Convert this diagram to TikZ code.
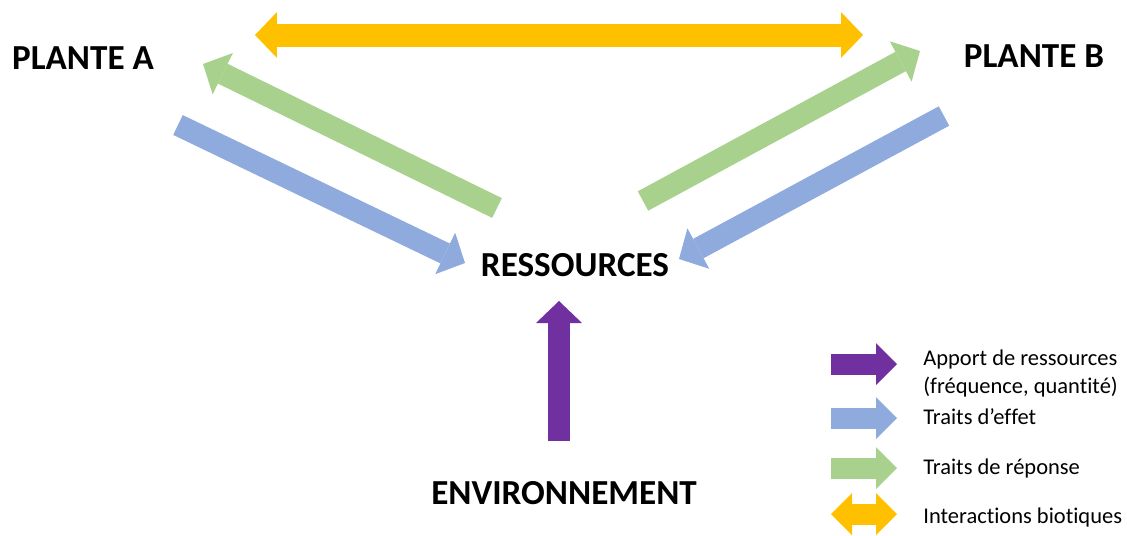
\documentclass[tikz,border=0pt]{standalone}
\usepackage{fontspec}
\setmainfont[Ligatures=NoCommon]{Carlito}
\usetikzlibrary{arrows.meta}
\definecolor{cyellow}{HTML}{FFC000}
\definecolor{cgreen}{HTML}{A9D18E}
\definecolor{cblue}{HTML}{8FAADC}
\definecolor{cpurple}{HTML}{7030A0}
\tikzset{
  tip/.tip={Triangle[length=0.44cm, width=0.92cm, line width=0pt]},
  ltip/.tip={Triangle[length=0.42cm, width=0.84cm, line width=0pt]},
  barrow/.style={line width=0.44cm, -tip},
  bdarrow/.style={line width=0.46cm, tip-tip},
  legarrow/.style={line width=0.42cm, -ltip},
  legdarrow/.style={line width=0.42cm, ltip-ltip},
  title/.style={font=\fontsize{20}{24}\selectfont\bfseries, inner sep=0pt, anchor=center},
  legtext/.style={font=\fontsize{12.8}{15.9}\selectfont, inner sep=0pt, anchor=base west, align=left},
}
\begin{document}
\begin{tikzpicture}[x=0.02cm, y=-0.02cm]
\useasboundingbox (0,0) rectangle (1127,535);
% titles
\node[title] (pa) at (83,58.5) {PLANTE A};
\node[title] (pb) at (1034,56.5) {PLANTE B};
\node[title] (res) at (575,265) {RESSOURCES};
\node[title] (env) at (564,493) {ENVIRONNEMENT};
% arrow end points
\coordinate (yl) at (255,35);
\coordinate (yr) at (863,35);
\coordinate (gat) at (497,208);
\coordinate (gah) at (203,64);
\coordinate (bat) at (178,125);
\coordinate (bah) at (465,263);
\coordinate (gbt) at (643,201);
\coordinate (gbh) at (920,51);
\coordinate (bbt) at (944,116);
\coordinate (bbh) at (679,259);
\coordinate (pt) at (559,441);
\coordinate (ph) at (559,301);
% arrows
\draw[bdarrow, cyellow] (yl) -- (yr);
\draw[barrow, cgreen] (gat) -- (gah);
\draw[barrow, cblue] (bat) -- (bah);
\draw[barrow, cgreen] (gbt) -- (gbh);
\draw[barrow, cblue] (bbt) -- (bbh);
\draw[barrow, cpurple] (pt) -- (ph);
% legend
\coordinate (l1a) at (831,364); \coordinate (l1b) at (897,364);
\coordinate (l2a) at (831,418); \coordinate (l2b) at (897,418);
\coordinate (l3a) at (831,468); \coordinate (l3b) at (897,468);
\coordinate (l4a) at (831,514); \coordinate (l4b) at (897,514);
\draw[legarrow, cpurple] (l1a) -- (l1b);
\draw[legarrow, cblue] (l2a) -- (l2b);
\draw[legarrow, cgreen] (l3a) -- (l3b);
\draw[legdarrow, cyellow] (l4a) -- (l4b);
\node[legtext] (t1) at (923,365) {Apport de ressources};
\node[legtext] (t1b) at (923,393) {(fréquence, quant\kern0pt ité)};
\node[legtext] (t2) at (923,424) {Traits d’ef\kern0pt fet};
\node[legtext] (t3) at (923,474) {Traits de réponse};
\node[legtext] (t4) at (923,523) {Interac\kern0pt t\kern0pt ions biot\kern0pt iques};
\end{tikzpicture}
\end{document}
